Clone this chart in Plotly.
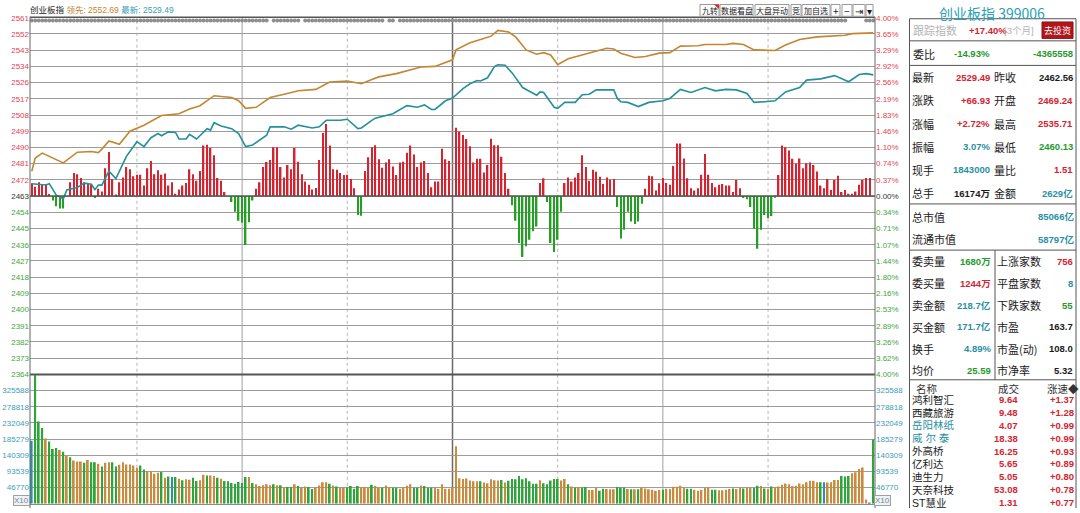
import numpy as np
import plotly.graph_objects as go

# ---------------- données ----------------
PREV_CLOSE = 2462.56

PRICE_LABELS = ["2561", "2552", "2543", "2534", "2526", "2517", "2508", "2499", "2490", "2481", "2472",
                "2463", "2454", "2445", "2436", "2427", "2418", "2409", "2400", "2391", "2382", "2373", "2364"]
PCT_LABELS = ["4.00%", "3.65%", "3.29%", "2.92%", "2.56%", "2.19%", "1.83%", "1.46%", "1.10%", "0.74%", "0.37%",
              "0.00%", "0.34%", "0.71%", "1.07%", "1.44%", "1.80%", "2.16%", "2.53%", "2.89%", "3.26%", "3.62%", "4.00%"]
VOL_LABELS = ["46770", "93539", "140309", "185279", "232049", "278818", "325588"]
VOL_STEP = 46770

# ligne "领先" (marron)
LEAD_T = [0, 1, 3, 9, 13, 17, 19, 20, 22, 25, 28, 32, 37, 42, 45, 48, 52, 57, 59, 61, 64, 68, 72, 76, 81, 85,
          90, 94, 97, 99, 104, 111, 115, 118, 120, 121, 125, 128, 131, 133, 136, 138, 141, 144, 146, 148, 150,
          153, 156, 161, 164, 166, 168, 172, 175, 179, 182, 185, 190, 192, 198, 200, 203, 206, 212, 215, 219,
          224, 232, 234, 239, 240]
LEAD_V = [2476.3, 2483.6, 2486.3, 2480.9, 2486.8, 2487.2, 2486.6, 2488.5, 2493.0, 2491.2, 2498.4, 2501.7,
          2507.1, 2508.0, 2510.7, 2512.5, 2518.0, 2517.0, 2515.2, 2511.0, 2511.6, 2517.0, 2518.8, 2520.7,
          2521.5, 2525.6, 2526.1, 2524.6, 2527.0, 2528.4, 2530.2, 2533.9, 2534.2, 2536.4, 2537.8, 2543.3,
          2547.3, 2549.1, 2550.9, 2554.1, 2553.2, 2550.5, 2543.3, 2540.9, 2541.8, 2540.5, 2535.1, 2538.4,
          2540.0, 2543.0, 2544.2, 2543.8, 2541.5, 2539.1, 2539.7, 2541.5, 2541.8, 2545.4, 2545.6, 2546.3,
          2546.3, 2546.9, 2546.3, 2543.3, 2543.0, 2546.0, 2549.1, 2550.5, 2551.4, 2552.3, 2552.9, 2552.69]

# ligne "最新" (bleu-vert)
LAST_T = [0, 4, 5, 7, 9, 10, 13, 15, 17, 18, 19, 20, 22, 24, 27, 30, 32, 34, 36, 37, 39, 41, 42, 44, 45, 47,
          50, 51, 52, 54, 57, 59, 61, 63, 67, 68, 72, 74, 76, 80, 82, 84, 88, 90, 93, 94, 97, 98, 103, 107,
          110, 112, 114, 115, 118, 120, 123, 125, 127, 128, 130, 132, 133, 135, 137, 140, 144, 145, 146, 149,
          150, 152, 155, 157, 159, 161, 166, 167, 168, 170, 173, 176, 180, 182, 185, 188, 192, 195, 198, 201,
          204, 206, 209, 212, 215, 219, 221, 225, 229, 231, 233, 236, 238, 240]
LAST_V = [2469.4, 2468.7, 2469.4, 2463.1, 2461.0, 2465.9, 2467.3, 2469.7, 2469.1, 2466.1, 2468.7, 2468.6,
          2476.3, 2472.2, 2484.5, 2492.6, 2489.9, 2494.8, 2497.1, 2495.9, 2498.0, 2497.7, 2494.1, 2494.1,
          2496.6, 2494.1, 2499.8, 2499.0, 2503.1, 2501.3, 2499.8, 2497.1, 2489.9, 2490.8, 2496.2, 2500.8,
          2500.8, 2499.5, 2501.7, 2500.2, 2500.8, 2504.4, 2504.4, 2505.0, 2499.8, 2500.2, 2504.4, 2505.6,
          2508.0, 2512.5, 2511.6, 2512.9, 2510.4, 2510.4, 2515.2, 2516.7, 2521.9, 2524.6, 2526.4, 2526.1,
          2527.9, 2534.2, 2535.1, 2534.8, 2530.6, 2522.5, 2518.3, 2520.1, 2519.8, 2511.6, 2511.0, 2514.3,
          2514.3, 2518.5, 2518.8, 2521.2, 2521.2, 2516.5, 2514.7, 2514.3, 2512.0, 2514.3, 2515.2, 2516.5,
          2521.5, 2519.8, 2522.5, 2520.7, 2521.5, 2521.2, 2519.2, 2514.3, 2514.7, 2515.2, 2520.1, 2522.5,
          2526.6, 2527.3, 2529.1, 2527.5, 2525.7, 2529.7, 2530.2, 2529.49]

# barres rouges / vertes autour du cours de clôture précédent (en points d'indice)
BREADTH = [7.1, 5.2, 7.6, 6.7, 6.7, 1.1, -2.4, -5.6, -6.9, -6.9,
           0, 7.6, 12.7, 12.1, 10.0, 7.6, 6.7, 6.7, -1.1, 4.0,
           2.5, 15.4, 24.4, 9.4, 0.9, 7.6, 10.3, 16.1, 14.8, 10.9,
           11.8, 11.8, 5.8, 15.4, 19.4, 12.1, 14.3, 11.8, 12.5, 5.8,
           7.6, 1.3, 3.6, 5.8, 7.2, 14.8, 12.1, 8.5, 13.9, 27.9,
           28.4, 26.6, 22.6, 10.0, 8.5, 2.2, 0, -3.3, -8.7, -13.6,
           -14.7, -27.1, -14.5, -2.4, 4.0, 7.6, 16.1, 18.8, 19.9, 27.0,
           27.0, 16.1, 10.3, 17.2, 14.8, 26.6, 19.0, 12.1, 8.0, 6.2,
           3.6, 4.5, 19.9, 34.8, 39.8, 27.9, 14.8, 14.5, 12.7, 11.6,
           11.8, 9.4, 4.3, -10.5, -10.9, 13.9, 21.5, 27.0, 28.1, 20.3,
           15.7, 18.5, 20.3, 16.3, 11.6, 18.5, 19.0, 23.9, 27.9, 23.0,
           16.1, 18.5, 19.4, 12.7, 4.9, 8.0, 8.0, 26.1, 20.3, 19.4,
           0, 37.8, 35.7, 33.8, 31.5, 27.5, 18.5, 20.6, 20.6, 13.0,
           17.2, 31.7, 28.1, 28.1, 21.7, 12.7, 4.0, -5.1, -13.6, -25.9,
           -33.7, -27.7, -24.1, -19.5, -16.8, 7.2, 9.8, -3.3, -25.9, -30.9,
           -24.1, -8.7, 7.2, 10.3, 8.0, 10.3, 12.7, 22.6, 16.1, 8.5,
           14.5, 13.4, 10.7, 6.7, 10.3, 9.0, 9.4, -6.0, -23.5, -18.6,
           -8.7, -14.1, -15.4, -14.1, -4.2, 4.0, 11.2, 10.9, 3.1, 7.1,
           10.0, 7.2, 6.3, 16.6, 29.0, 29.0, 20.8, 9.8, 4.3, 3.1,
           4.3, 11.8, 23.3, 11.8, 7.2, 4.9, 6.3, 6.7, 5.8, 5.8,
           2.2, 8.9, 4.3, -1.1, -1.8, -6.0, -18.1, -29.1, -18.6, -10.5,
           -12.3, -11.0, -0.5, 11.6, 27.9, 27.0, 25.2, 20.6, 17.9, 20.8,
           15.4, 18.1, 18.5, 17.2, 13.6, 5.8, 4.3, 9.4, 3.4, 8.9,
           11.2, 2.2, 3.4, 1.3, 1.3, 2.5, 6.2, 8.9, 10.0, 10.0]

# volume par minute (0 -> 240)
VOLUME = [182300, 372000, 237600, 219400, 188900, 180300, 158400, 161300, 155500, 150700,
          139300, 134500, 125000, 122100, 122100, 118300, 126900, 120200, 120200, 115400,
          107800, 118300, 120200, 120200, 107800, 112600, 120200, 113500, 113500, 110700,
          104000, 110700, 99200, 94400, 94400, 86800, 89700, 91600, 75400, 79200,
          77300, 77300, 72500, 67700, 70600, 69600, 75400, 65800, 67700, 84000,
          82000, 82000, 80100, 75400, 72500, 65800, 64900, 60100, 58200, 63000,
          60100, 77300, 77300, 60100, 56300, 51500, 53400, 56300, 53400, 56300,
          53400, 53400, 46800, 48700, 48700, 56300, 51500,
          47300, 50200, 48300, 42600, 47300, 53000, 62500, 62500, 57800, 53000,
          50200, 46400, 46400, 46400, 51100, 43600, 51100, 47300, 48300, 47300,
          54900, 51100, 46400, 46400, 53000, 47300, 46400, 46400, 43600, 47300,
          52100, 56800, 46400, 46400, 53000, 51100, 46400, 46400, 45400, 43600,
          56800, 43600, 43600, 48300, 166600, 73900, 72000, 72900, 67200, 65300,
          65300, 65300, 61500, 59600, 71000, 68200, 67200, 69100, 61500, 66300,
          72000, 71000, 80500, 71000, 73900, 65300, 57800, 57800, 68200, 59600,
          56800, 67200, 72000, 72000, 67200, 72000, 56800, 50200, 46400, 48300,
          47300, 48300, 39800, 39800, 46400, 37900, 43600, 42600, 41700, 41700,
          48300,
          47300, 47300, 42600, 41700, 41700, 41700, 46400, 44500, 41700, 40700,
          37900, 39800, 40700, 43600, 42600, 49200, 49200, 52100, 47300, 43600,
          43600, 40700, 37900, 39800, 46400, 46400, 40700, 40700, 38800, 38800,
          40700, 42600, 44500, 42600, 47300, 44500, 45400, 45400, 45400, 52100,
          51100, 44500, 43600, 50200, 47300, 50200, 54900, 58700, 56800, 51100,
          52100, 58700, 56800, 62500, 66300, 66300, 62500, 62500, 62500, 61500,
          62500, 69100, 69100, 80500, 78600, 80500, 88100, 90900, 100400, 105100,
          12300, 2800, 186000]
# o = marron, g = vert, t = bleu
VOL_COLOR = ("tgggoggg" "ogogooog" "oggogoog" "goooooog" "goooogog" "tgogoogg" "oogoogog" "ggggggog"
             "ooooogog" "oggog"
             "ooggoooo" "gogooggg" "gooogoog" "ooggoooo" "ggogggoo" "oooooooo" "ooogoooo" "ogoggggg"
             "ggggoggg" "ggoogogo" "ggoooggo" "oog"
             "ggogogoo" "oooogooo" "oooggooo" "ooggoooo" "googoogg" "ogogoooo" "oooooooo" "ogtoooog"
             "ggoooootg")

# rangée de repères gris en haut (minutes couvertes)
FLAG_SEGMENTS = [(0, 67), (69, 76), (78, 100), (102, 103), (105, 232), (238, 240)]

TITLE = "创业板指 399006"
QUOTE_TOP = [("最新", "2529.49", "r", "昨收", "2462.56", "k"),
             ("涨跌", "+66.93", "r", "开盘", "2469.24", "r"),
             ("涨幅", "+2.72%", "r", "最高", "2535.71", "r"),
             ("振幅", "3.07%", "t", "最低", "2460.13", "g"),
             ("现手", "1843000", "t", "量比", "1.51", "r"),
             ("总手", "16174万", "k", "金额", "2629亿", "t")]
MARKET_VALUE = [("总市值", "85066亿"), ("流通市值", "58797亿")]
QUOTE_LOW = [("委卖量", "1680万", "g", "上涨家数", "756", "r"),
             ("委买量", "1244万", "r", "平盘家数", "8", "t"),
             ("卖金额", "218.7亿", "t", "下跌家数", "55", "g"),
             ("买金额", "171.7亿", "t", "市盈", "163.7", "k"),
             ("换手", "4.89%", "t", "市盈(动)", "108.0", "k"),
             ("均价", "25.59", "g", "市净率", "5.32", "k")]
STOCK_NAMES = ["鸿利智汇", "西藏旅游", "岳阳林纸", "威 尔 泰", "外高桥", "亿利达", "迪生力", "天奈科技", "ST慧业"]
STOCK_PRICE = ["9.64", "9.48", "4.07", "18.38", "16.25", "5.65", "5.05", "53.08", "1.31"]
STOCK_SPEED = ["+1.37", "+1.28", "+0.99", "+0.99", "+0.93", "+0.89", "+0.80", "+0.78", "+0.77"]
STOCK_NAME_COLOR = ["k", "k", "t", "t", "k", "k", "k", "k", "k"]
TOOL_BUTTONS = ["九转", "数据看盘", "大盘异动", "竞", "加自选", "+", "−", "⇥", "▾"]

# ---------------- style ----------------
W, H = 1080, 513
COL = {"r": "#D52330", "g": "#1F9A2B", "t": "#2A8FA3", "k": "#1A1A1A"}
BROWN = "#C4862E"
TEAL_LINE = "#23909B"
VOL_RGB = {"o": "#C98B3E", "g": "#2FA43A", "t": "#2E8FA8"}
CJK = "Noto Sans CJK SC"
NUM = "Liberation Sans"


def px(x):
    return x / W


def py(y):
    return 1 - y / H


X0, X1 = 30, 875          # zone du graphique
Y_TOP, Y_SPLIT, Y_BOT = 14, 377, 508.7

lo, hi = PREV_CLOSE * 0.96, PREV_CLOSE * 1.04
price_ticks = np.linspace(hi, lo, len(PRICE_LABELS))


def tick_color(i, mid):
    if i < mid:
        return "#E2454F"
    if i == mid:
        return "#333333"
    return "#3DA83D"


mid = PRICE_LABELS.index("2463")
left_text = [f"<span style='color:{tick_color(i, mid)}'>{t}</span>" for i, t in enumerate(PRICE_LABELS)]
right_text = [f"<span style='color:{tick_color(i, mid)}'>{t}</span>" for i, t in enumerate(PCT_LABELS)]
vol_ticks = [VOL_STEP * (k + 1) for k in range(len(VOL_LABELS))]
vol_text = [f"<span style='color:#3C9DB8'>{t}</span>" for t in VOL_LABELS]

fig = go.Figure()

minutes = list(range(len(BREADTH)))
fig.add_trace(go.Bar(
    x=minutes, y=BREADTH, base=PREV_CLOSE, width=0.42, yaxis="y",
    marker=dict(color=[COL["r"] if v >= 0 else "#23A023" for v in BREADTH], line_width=0),
    hoverinfo="skip", showlegend=False))

fig.add_trace(go.Scatter(x=LEAD_T, y=LEAD_V, mode="lines", yaxis="y",
                         line=dict(color=BROWN, width=1.6), showlegend=False))
fig.add_trace(go.Scatter(x=LAST_T, y=LAST_V, mode="lines", yaxis="y",
                         line=dict(color=TEAL_LINE, width=1.6), showlegend=False))

flag_x = [m for a, b in FLAG_SEGMENTS for m in range(a, b + 1)]
flag_y = hi - (hi - lo) * 0.0075
fig.add_trace(go.Scatter(x=flag_x, y=[flag_y] * len(flag_x), mode="markers", yaxis="y",
                         marker=dict(symbol="circle", size=4, color="#8E8E8E"), showlegend=False))

fig.add_trace(go.Bar(
    x=list(range(len(VOLUME))), y=VOLUME, width=0.5, yaxis="y3",
    marker=dict(color=[VOL_RGB[c] for c in VOL_COLOR], line_width=0),
    hoverinfo="skip", showlegend=False))

shapes = []
# lignes verticales des demi-heures
for m, style in [(30, "dot"), (60, "solid"), (90, "dot"), (120, "mid"), (150, "dot"), (180, "solid"), (210, "dot")]:
    if style == "dot":
        ln = dict(color="#B5B5B5", width=1, dash="dot")
    elif style == "mid":
        ln = dict(color="#6A6A6A", width=1.5)
    else:
        ln = dict(color="#A0A0A0", width=1)
    shapes.append(dict(type="line", xref="x", yref="paper", x0=m, x1=m, y0=py(Y_BOT), y1=py(Y_TOP), line=ln, layer="below"))

shapes.append(dict(type="line", xref="x", yref="y", x0=-0.5, x1=240.5, y0=PREV_CLOSE, y1=PREV_CLOSE,
                   line=dict(color="#555555", width=1.5)))
shapes.append(dict(type="line", xref="paper", yref="paper", x0=px(X0), x1=px(X1), y0=py(Y_SPLIT), y1=py(Y_SPLIT),
                   line=dict(color="#555555", width=2)))
shapes.append(dict(type="line", xref="paper", yref="paper", x0=px(X0), x1=px(X1), y0=py(13.5), y1=py(13.5),
                   line=dict(color="#555555", width=1.5)))
shapes.append(dict(type="line", xref="paper", yref="paper", x0=px(X0), x1=px(X1), y0=py(509.5), y1=py(509.5),
                   line=dict(color="#888888", width=1)))
for xv in (X0, X1):
    shapes.append(dict(type="line", xref="paper", yref="paper", x0=px(xv), x1=px(xv), y0=py(513), y1=py(13),
                       line=dict(color="#666666", width=1)))

# panneau de droite
PL, PR = 909.5, 1076
for yv in (15, 37.5, 62.5, 203.5, 250.5, 382.5):
    shapes.append(dict(type="line", xref="paper", yref="paper", x0=px(PL), x1=px(PR), y0=py(yv), y1=py(yv),
                       line=dict(color="#555555", width=1)))
for xv in (PL, PR):
    shapes.append(dict(type="line", xref="paper", yref="paper", x0=px(xv), x1=px(xv), y0=py(513), y1=py(15),
                       line=dict(color="#555555", width=1)))
shapes.append(dict(type="line", xref="paper", yref="paper", x0=px(995), x1=px(995), y0=py(382.5), y1=py(250.5),
                   line=dict(color="#555555", width=1)))
shapes.append(dict(type="rect", xref="paper", yref="paper", x0=px(1042), x1=px(1073), y0=py(35), y1=py(18.3),
                   fillcolor="#B0161E", line=dict(color="#8A1015", width=1)))

ann = []


def txt(x, y, s, color=COL["k"], size=11, anchor="left", family=CJK, **kw):
    ann.append(dict(x=px(x), y=py(y), xref="paper", yref="paper", text=s, showarrow=False,
                    xanchor=anchor, yanchor="middle", font=dict(size=size, color=color, family=family), **kw))


# barre d'outils en haut à droite
tool_edges = [(700, 719), (720, 753), (755, 789), (791, 801), (802, 830), (831, 840), (842, 852), (853, 865), (866, 873)]
for label, (a, b) in zip(TOOL_BUTTONS, tool_edges):
    shapes.append(dict(type="rect", xref="paper", yref="paper", x0=px(a), x1=px(b), y0=py(12.5), y1=py(0.5),
                       fillcolor="#FFFFFF", line=dict(color="#9A9A9A", width=1)))
    txt((a + b) / 2, 6.5, label, size=8 if ord(label[0]) > 0x2E80 else 10, anchor="center",
        family=f"{CJK}, DejaVu Sans", borderpad=0)
shapes.append(dict(type="path", xref="paper", yref="paper",
                   path=f"M {px(714)} {py(0.5)} L {px(719)} {py(0.5)} L {px(719)} {py(5)} Z",
                   fillcolor="#E02020", line=dict(width=0)))

# entête du graphique
txt(28, 6, "创业板指 <span style='color:#C4862E'>领先: 2552.69</span> "
           "<span style='color:#3AA0B5'>最新: 2529.49</span>", size=8.5, family=f"{NUM}, {CJK}")

# titre et tableau des cotations
txt(992, 9, TITLE, color="#2A9FB5", size=14, anchor="center", family=f"{CJK}")
txt(911, 26.7, "跟踪指数", color="#B4B4B4", size=11)
txt(967, 26.7, "<b>+17.40%</b>", color=COL["r"], size=9.5, family=NUM)
txt(1002, 26.7, "[3个月]", color="#B4B4B4", size=9.5, family=f"{NUM}, {CJK}")
txt(1057.5, 26.7, "去投资", color="#FFFFFF", size=9, anchor="center")
txt(911, 50.5, "委比", size=11)
txt(992, 50.5, "<b>-14.93%</b>", color=COL["g"], size=9.5, anchor="right", family=NUM)
txt(1075, 50.5, "<b>-4365558</b>", color=COL["g"], size=9.5, anchor="right", family=NUM)

for i, (l1, v1, c1, l2, v2, c2) in enumerate(QUOTE_TOP):
    yy = 74.5 + i * 23.6
    txt(910, yy, l1, size=11)
    txt(992, yy, f"<b>{v1}</b>", color=COL[c1], size=9.5, anchor="right", family=f"{NUM}, {CJK}")
    txt(992, yy, l2, size=11)
    txt(1075, yy, f"<b>{v2}</b>", color=COL[c2], size=9.5, anchor="right", family=f"{NUM}, {CJK}")

for i, (l1, v1) in enumerate(MARKET_VALUE):
    yy = 216.7 + i * 22.5
    txt(910, yy, l1, size=11)
    txt(1076, yy, f"<b>{v1}</b>", color=COL["t"], size=9.5, anchor="right", family=f"{NUM}, {CJK}")

for i, (l1, v1, c1, l2, v2, c2) in enumerate(QUOTE_LOW):
    yy = 262 + i * 22.2
    txt(910, yy, l1, size=11)
    txt(993, yy, f"<b>{v1}</b>", color=COL[c1], size=9.5, anchor="right", family=f"{NUM}, {CJK}")
    txt(995, yy, l2, size=11)
    txt(1075, yy, f"<b>{v2}</b>", color=COL[c2], size=9.5, anchor="right", family=f"{NUM}, {CJK}")

txt(927, 391, "名称", color="#333333", size=10.5, anchor="center")
txt(1009, 391, "成交", color="#333333", size=10.5, anchor="center")
txt(1063, 391, "涨速◆", color="#333333", size=10.5, anchor="center", family=f"{CJK}, DejaVu Sans")
for i, (nm, pr, sp, nc) in enumerate(zip(STOCK_NAMES, STOCK_PRICE, STOCK_SPEED, STOCK_NAME_COLOR)):
    yy = 402.7 + i * 13.1
    txt(910, yy, nm, color=COL[nc], size=10.5, family=f"{NUM}, {CJK}")
    txt(1020, yy, f"<b>{pr}</b>", color=COL["r"], size=9.5, anchor="right", family=NUM)
    txt(1076, yy, f"<b>{sp}</b>", color=COL["r"], size=9.5, anchor="right", family=NUM)

# cases X10
for cx in (21.7, 883):
    txt(cx, 505, "X10", color="#5B8D9E", size=8, anchor="center", family=NUM,
        bordercolor="#A0A0A0", borderwidth=1, borderpad=0, bgcolor="#F2F2F2")

axis_common = dict(showgrid=False, zeroline=False, ticks="", fixedrange=True)
fig.update_layout(
    width=W, height=H,
    margin=dict(l=0, r=0, t=0, b=0),
    paper_bgcolor="#FFFFFF", plot_bgcolor="#FFFFFF",
    barmode="overlay", showlegend=False,
    font=dict(family=f"{NUM}, {CJK}", size=8, color="#333333"),
    xaxis=dict(domain=[px(X0), px(X1)], range=[-0.5, 240.5], showticklabels=False, anchor="y3", **axis_common),
    yaxis=dict(domain=[py(Y_SPLIT), py(Y_TOP)], range=[lo, hi], side="left", anchor="x",
               tickvals=price_ticks, ticktext=left_text, tickfont=dict(size=8, family=NUM),
               showgrid=True, gridcolor="#9C9C9C", gridwidth=1, zeroline=False, ticks="", fixedrange=True),
    yaxis2=dict(overlaying="y", range=[lo, hi], side="right", anchor="x",
                tickvals=price_ticks, ticktext=right_text, tickfont=dict(size=8, family=NUM), **axis_common),
    yaxis3=dict(domain=[py(Y_BOT), py(Y_SPLIT)], range=[0, VOL_STEP * 8], side="left", anchor="x",
                tickvals=vol_ticks, ticktext=vol_text, tickfont=dict(size=8, family=NUM),
                showgrid=True, gridcolor="#9C9C9C", gridwidth=1, zeroline=False, ticks="", fixedrange=True),
    yaxis4=dict(overlaying="y3", range=[0, VOL_STEP * 8], side="right", anchor="x",
                tickvals=vol_ticks, ticktext=vol_text, tickfont=dict(size=8, family=NUM), **axis_common),
    shapes=shapes,
    annotations=ann,
)
# traces fantômes pour afficher les axes de droite
fig.add_trace(go.Scatter(x=[None], y=[None], yaxis="y2", showlegend=False))
fig.add_trace(go.Scatter(x=[None], y=[None], yaxis="y4", showlegend=False))

# pas de marge autour de la page
fig.write_html("out.html", config={"displayModeBar": False},
               post_script="document.body.style.margin='0';document.body.style.overflow='hidden';")
